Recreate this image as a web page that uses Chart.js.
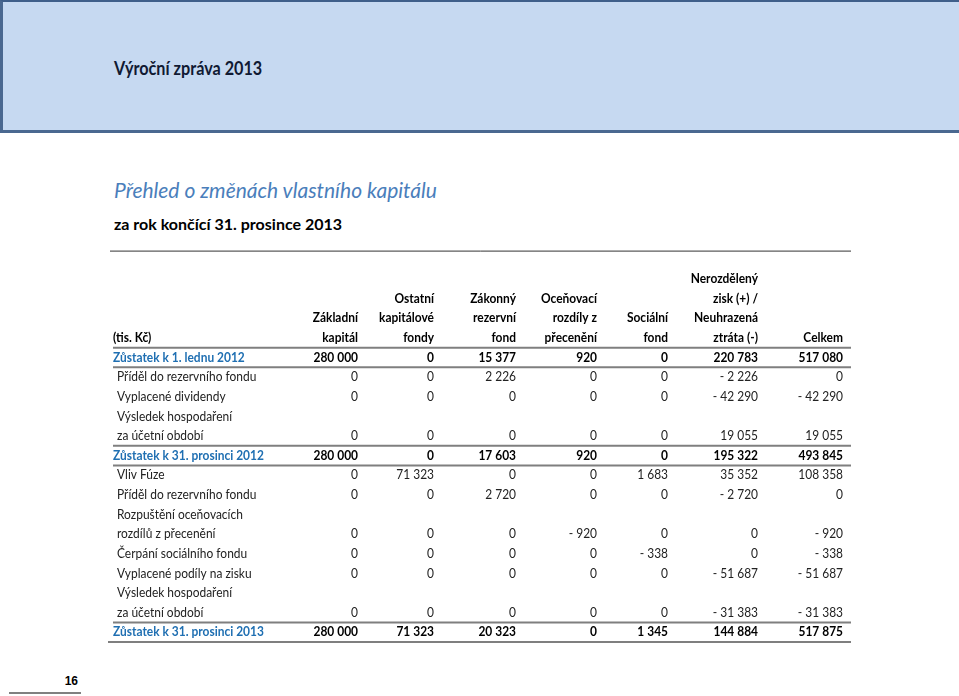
<!DOCTYPE html>
<html>
<head>
<meta charset="utf-8">
<script src="https://cdn.jsdelivr.net/npm/chart.js@4"></script>
<style>
  html, body { margin: 0; padding: 0; background: #fff; }
  #page { position: relative; width: 959px; height: 696px; overflow: hidden; font-family: Lato, sans-serif; }
  #band { position: absolute; left: 0; top: 0; width: 959px; height: 133px; box-sizing: border-box;
          background: #c6d9f1; border-top: 2px solid #3f5f8a; border-left: 3px solid #4a6890; border-bottom: 3px solid #4a6890; }
  .t { position: absolute; white-space: nowrap; transform-origin: left center; }
  #title { left: 114px; top: 57px; font-size: 18px; line-height: 22px; font-weight: bold; color: #101a33; transform: scaleX(0.9); }
  #sub1 { left: 114px; top: 178px; font-size: 21px; line-height: 24px; font-style: italic; color: #4a7ebb; }
  #sub2 { left: 114px; top: 214px; font-size: 16px; line-height: 20px; font-weight: bold; color: #000; }
  #pnum { left: 40px; width: 38px; text-align: right; top: 673px; font: bold 12px "Liberation Sans", Arial, sans-serif; line-height: 16px; color: #000; }
  #pline { position: absolute; left: 9px; top: 692px; width: 72px; height: 2px; background: #808080; }
  canvas { position: absolute; left: 0; top: 0; }
</style>
</head>
<body>
<div id="page">
  <div id="band"></div>
  <div class="t" id="title">Výroční zpráva 2013</div>
  <div class="t" id="sub1">Přehled o změnách vlastního kapitálu</div>
  <div class="t" id="sub2">za rok končící 31. prosince 2013</div>
  <div class="t" id="pnum">16</div>
  <div id="pline"></div>
  <canvas id="tableChart" width="959" height="696"></canvas>
</div>
<script>
// column headings (each entry = lines of the heading)
const columnHeads = [
  ['Základní', 'kapitál'],
  ['Ostatní', 'kapitálové', 'fondy'],
  ['Zákonný', 'rezervní', 'fond'],
  ['Oceňovací', 'rozdíly z', 'přecenění'],
  ['Sociální', 'fond'],
  ['Nerozdělený', 'zisk (+) /', 'Neuhrazená', 'ztráta (-)'],
  ['Celkem']
];
const unitLabel = '(tis. Kč)';

// row labels (multi-line rows keep their values on the last line)
const rowLabels = [
  ['Zůstatek k 1. lednu 2012'],
  ['Příděl do rezervního fondu'],
  ['Vyplacené dividendy'],
  ['Výsledek hospodaření', 'za účetní období'],
  ['Zůstatek k 31. prosinci 2012'],
  ['Vliv Fúze'],
  ['Příděl do rezervního fondu'],
  ['Rozpuštění oceňovacích', 'rozdílů z přecenění'],
  ['Čerpání sociálního fondu'],
  ['Vyplacené podíly na zisku'],
  ['Výsledek hospodaření', 'za účetní období'],
  ['Zůstatek k 31. prosinci 2013']
];
const balanceRows = [0, 4, 11];

// values per column, in row order
const zakladniKapital  = [280000, 0, 0, 0, 280000, 0, 0, 0, 0, 0, 0, 280000];
const ostatniFondy     = [0, 0, 0, 0, 0, 71323, 0, 0, 0, 0, 0, 71323];
const zakonnyFond      = [15377, 2226, 0, 0, 17603, 0, 2720, 0, 0, 0, 0, 20323];
const ocenovaciRozdily = [920, 0, 0, 0, 920, 0, 0, -920, 0, 0, 0, 0];
const socialniFond     = [0, 0, 0, 0, 0, 1683, 0, 0, -338, 0, 0, 1345];
const nerozdelenyZisk  = [220783, -2226, -42290, 19055, 195322, 35352, -2720, 0, 0, -51687, -31383, 144884];
const celkem           = [517080, 0, -42290, 19055, 493845, 108358, 0, -920, -338, -51687, -31383, 517875];
const columnValues = [zakladniKapital, ostatniFondy, zakonnyFond, ocenovaciRozdily, socialniFond, nerozdelenyZisk, celkem];

// layout: right edge of each numeric column, in table units (px from table left)
const colRight = [245, 321, 403, 484, 555, 645, 730];
const tableWidth = 738;
const headerRows = 5; // one spacer line + four heading lines
const squeeze = 0.92; // narrow the font towards the original's

// grid line index for each row (values sit on the last line of the label)
const rowLine = [];
let line = headerRows;
rowLabels.forEach(lines => { line += lines.length; rowLine.push(line - 1); });
const lineCount = line;
const lineKeys = Array.from({ length: lineCount }, (_, i) => 'L' + i);

function fmt(v) {
  const s = Math.abs(v).toString().replace(/\B(?=(\d{3})+(?!\d))/g, '\u00a0');
  return v < 0 ? '-\u00a0' + s : s;
}

function drawText(ctx, text, x, y, align) {
  ctx.save();
  ctx.translate(x, y);
  ctx.scale(squeeze, 1);
  ctx.textAlign = align;
  ctx.fillText(text, 0, 0);
  ctx.restore();
}

const tableText = {
  id: 'tableText',
  afterDatasetsDraw(chart) {
    const ctx = chart.ctx;
    const xs = chart.scales.x, ys = chart.scales.y;
    const area = chart.chartArea;
    ctx.save();
    ctx.textBaseline = 'middle';

    // headings, bottom aligned to the last heading line
    ctx.font = 'bold 13px Lato';
    ctx.fillStyle = '#000';
    columnHeads.forEach((lines, c) => {
      lines.forEach((t, k) => {
        const ln = headerRows - lines.length + k;
        drawText(ctx, t, xs.getPixelForValue(colRight[c]), ys.getPixelForValue(ln), 'right');
      });
    });
    drawText(ctx, unitLabel, xs.getPixelForValue(0), ys.getPixelForValue(headerRows - 1), 'left');

    // row labels
    rowLabels.forEach((lines, r) => {
      const total = balanceRows.includes(r);
      ctx.font = (total ? 'bold ' : '') + '13px Lato';
      ctx.fillStyle = total ? '#1f6fb2' : '#222';
      lines.forEach((t, k) => {
        const ln = rowLine[r] - lines.length + 1 + k;
        drawText(ctx, t, xs.getPixelForValue(total ? 0 : 4), ys.getPixelForValue(ln), 'left');
      });
    });

    // values from the dataset points
    chart.data.datasets.forEach((ds, c) => {
      chart.getDatasetMeta(c).data.forEach((pt, r) => {
        const total = balanceRows.includes(r);
        ctx.font = (total ? 'bold ' : '') + '13px Lato';
        ctx.fillStyle = total ? '#000' : '#222';
        drawText(ctx, fmt(columnValues[c][r]), pt.x, pt.y, 'right');
      });
    });

    // rules
    const edge = (ln) => ln >= lineCount - 1 ? area.bottom : (ys.getPixelForValue(ln) + ys.getPixelForValue(ln + 1)) / 2;
    ctx.strokeStyle = '#333';
    ctx.lineWidth = 1;
    ctx.beginPath();
    ctx.moveTo(area.left - 3, area.top + 1.5);
    ctx.lineTo(area.right, area.top + 1.5);
    ctx.stroke();
    ctx.strokeStyle = '#7f7f7f';
    ctx.lineWidth = 2;
    const ruleLines = [headerRows - 1];
    balanceRows.forEach(r => { if (rowLine[r] > headerRows) ruleLines.push(rowLine[r] - 1); ruleLines.push(rowLine[r]); });
    ruleLines.forEach(ln => {
      const y = edge(ln);
      ctx.beginPath();
      ctx.moveTo(area.left - (ln === lineCount - 1 ? 5 : 0), y);
      ctx.lineTo(area.right, y);
      ctx.stroke();
    });
    ctx.restore();
  }
};

new Chart(document.getElementById('tableChart').getContext('2d'), {
  type: 'scatter',
  data: {
    datasets: columnValues.map((vals, c) => ({
      label: columnHeads[c].join(' '),
      data: vals.map((v, r) => ({ x: colRight[c], y: lineKeys[rowLine[r]] })),
      pointRadius: 0,
      pointHoverRadius: 0
    }))
  },
  options: {
    responsive: false,
    animation: false,
    devicePixelRatio: 1,
    layout: { padding: { left: 113, right: 959 - 113 - tableWidth, top: 249.6, bottom: 54 } },
    plugins: { legend: { display: false }, tooltip: { enabled: false } },
    scales: {
      x: { type: 'linear', min: 0, max: tableWidth, display: false },
      y: { type: 'category', labels: lineKeys, offset: true, display: false }
    }
  },
  plugins: [tableText]
});
</script>
</body>
</html>
